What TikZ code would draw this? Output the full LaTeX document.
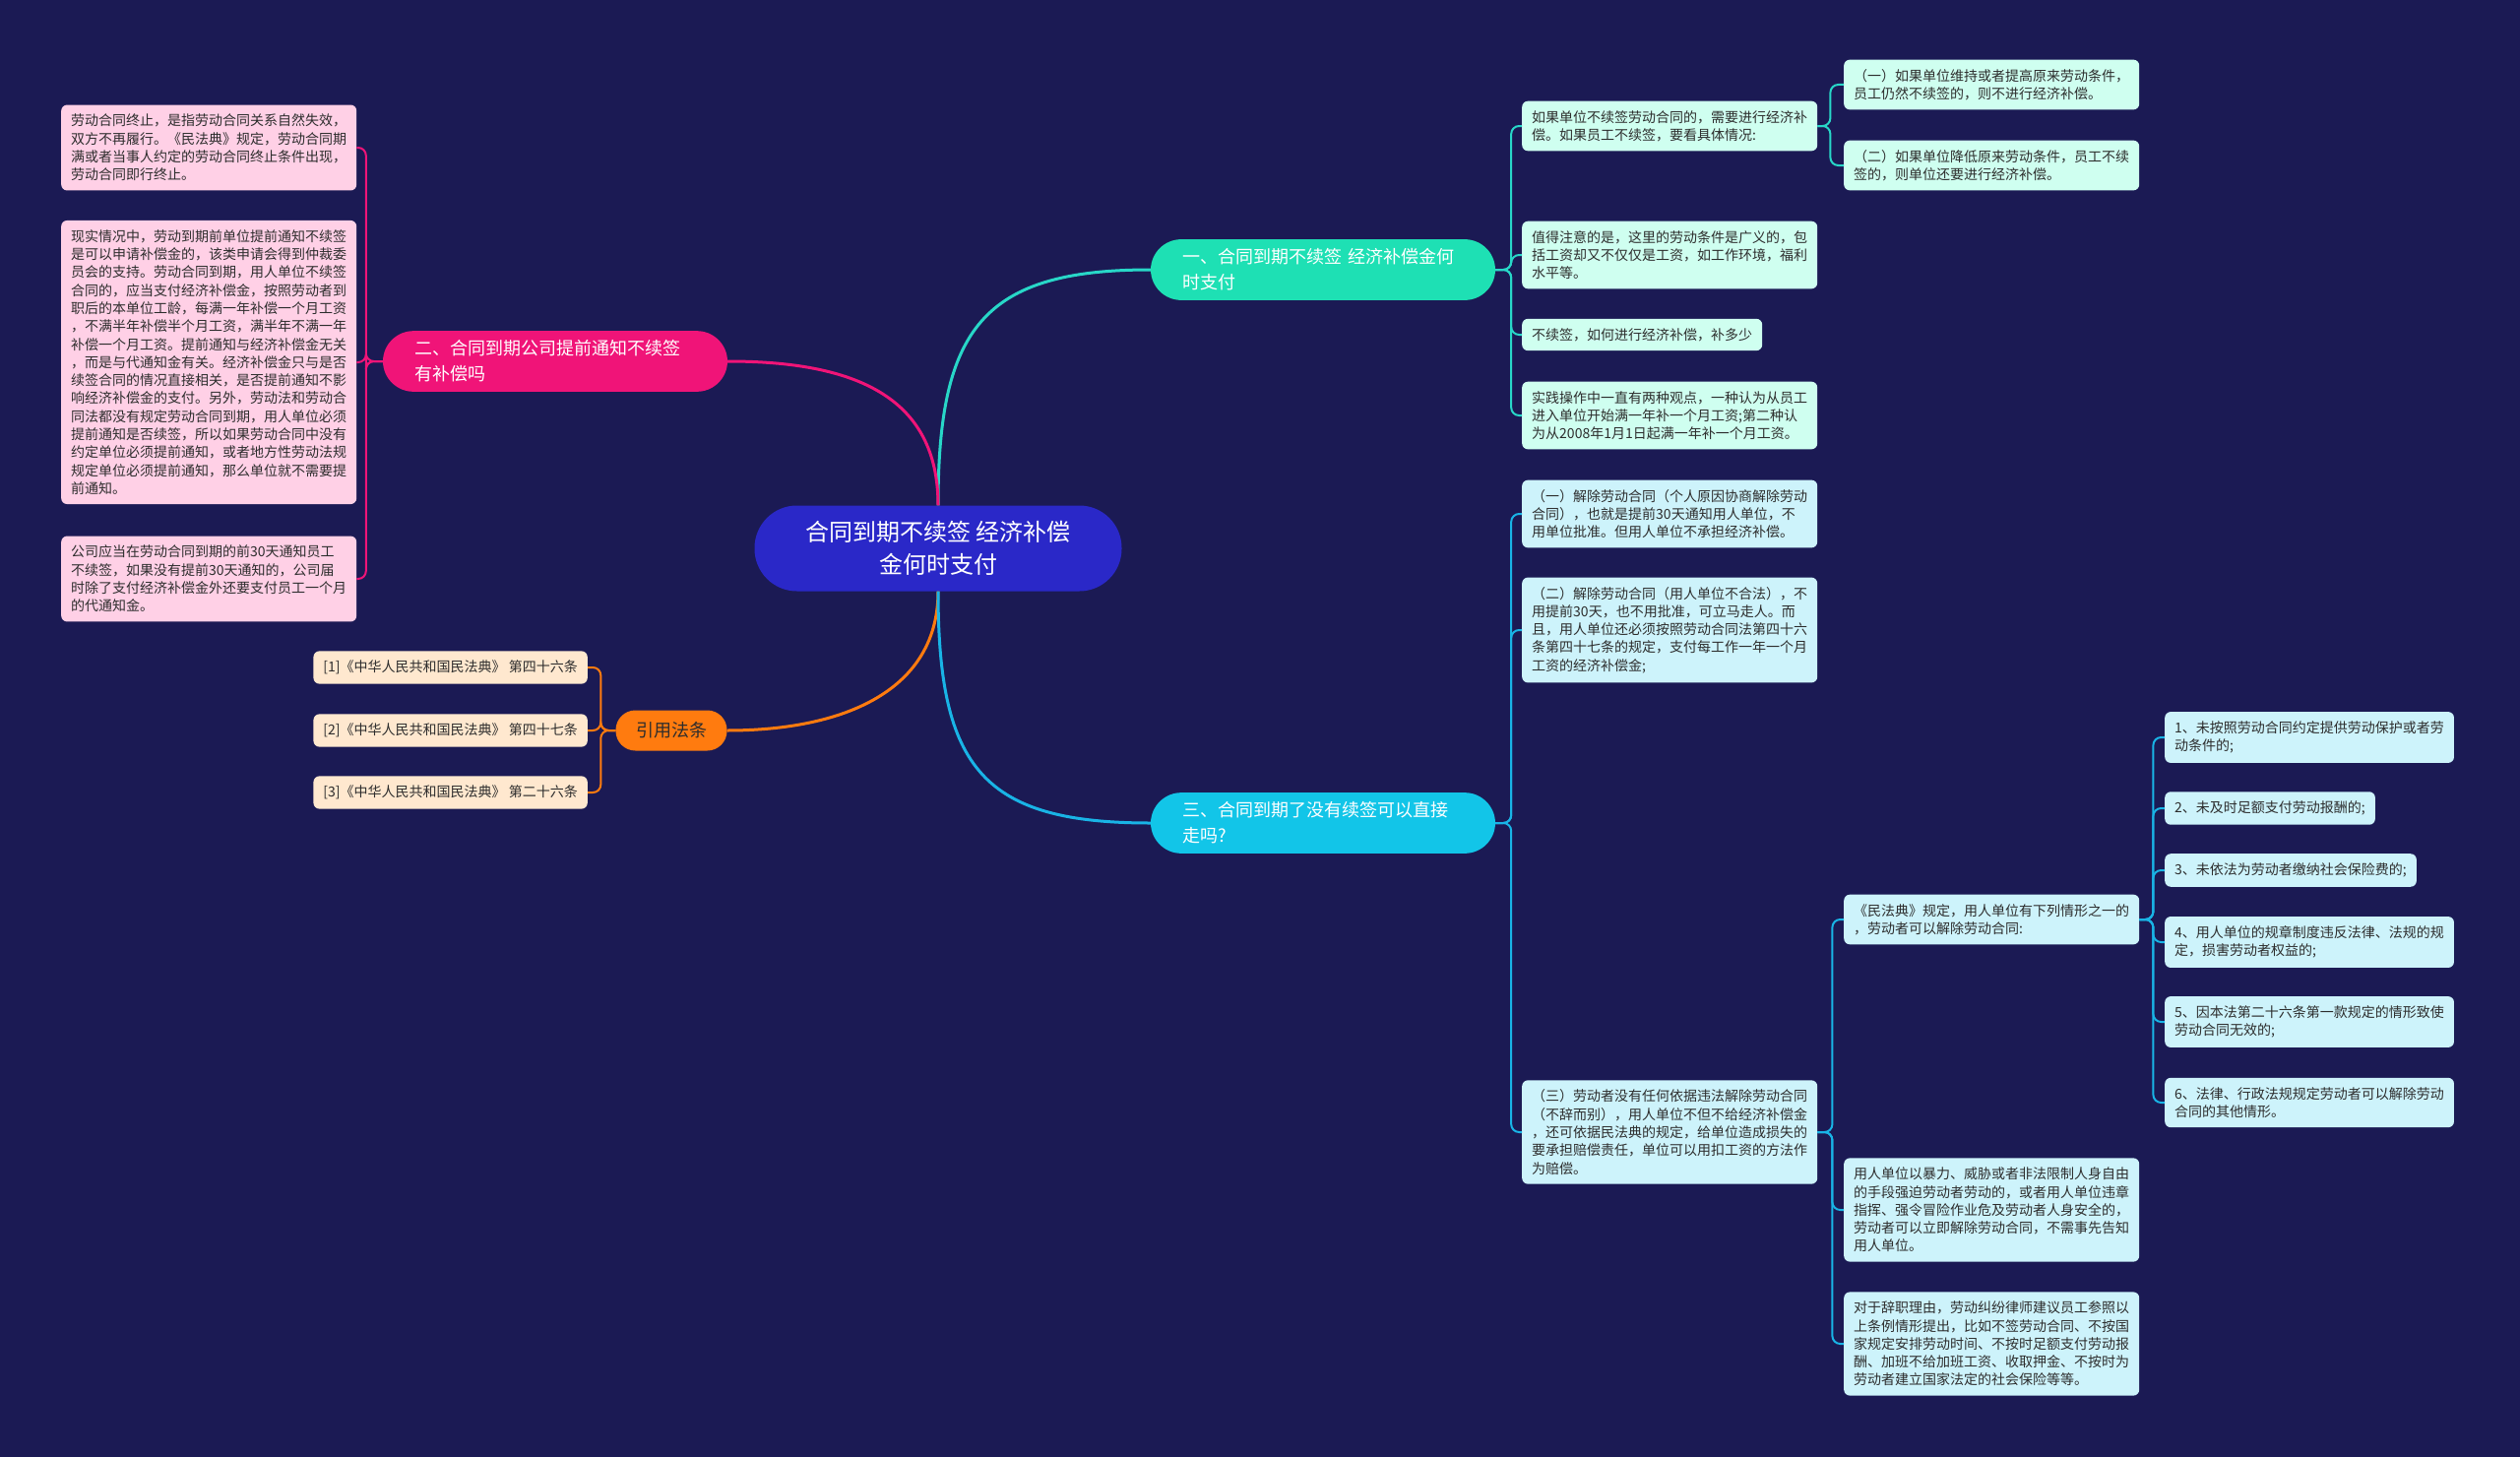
\documentclass[tikz,border=0pt]{standalone}
\usepackage{fontspec}
\setmainfont{Noto Sans CJK SC}
\usetikzlibrary{positioning}

\definecolor{cBack}{RGB}{27,26,84}
\definecolor{cRoot}{RGB}{42,40,200}
\definecolor{cTeal}{RGB}{30,224,180}
\definecolor{cPink}{RGB}{240,20,120}
\definecolor{cOrange}{RGB}{255,123,15}
\definecolor{cCyan}{RGB}{18,197,232}
\definecolor{cTealLine}{RGB}{40,215,200}
\definecolor{cCyanLine}{RGB}{25,180,230}
\definecolor{cPinkLeaf}{RGB}{255,208,230}
\definecolor{cOrangeLeaf}{RGB}{255,232,207}
\definecolor{cTealLeaf}{RGB}{207,255,240}
\definecolor{cCyanLeaf}{RGB}{205,243,251}
\definecolor{cText}{RGB}{45,45,45}

\begin{document}
\begin{tikzpicture}[x=1pt,y=-1pt,
  root/.style={
    rectangle, fill=cRoot, rounded corners=43pt,
    minimum width=373pt, minimum height=87pt,
    align=center, text=white,
    font=\fontsize{24}{33}\selectfont
  },
  branch/.style={
    rectangle, rounded corners=31pt,
    text width=286pt, inner xsep=32pt, inner ysep=9.5pt,
    align=left, text=white,
    font=\fontsize{18}{26}\selectfont
  },
  cite/.style={
    rectangle, fill=cOrange, rounded corners=20pt,
    minimum width=113pt, minimum height=41pt,
    text=cText, font=\fontsize{18}{26}\selectfont
  },
  leaf/.style={
    rectangle, rounded corners=6pt,
    inner xsep=10pt, inner ysep=9.5pt,
    align=left, text=cText, anchor=west,
    font=\fontsize{14}{18.3}\selectfont
  },
  main/.style={line width=3pt},
  twig/.style={line width=2pt, rounded corners=8pt}
]

\useasboundingbox (0,0) rectangle (2560,1480);
\fill[cBack] (0,0) rectangle (2560,1480);

% Centre and main branches
\node[root] (root) at (953,557) {合同到期不续签 经济补偿\\金何时支付};
\node[branch, fill=cTeal] (b1) at (1344,274)
  {一、合同到期不续签 经济补偿金何\\时支付};
\node[branch, fill=cPink] (b2) at (564,367)
  {二、合同到期公司提前通知不续签\\有补偿吗};
\node[cite] (b4) at (682,742) {引用法条};
\node[branch, fill=cCyan] (b3) at (1344,836)
  {三、合同到期了没有续签可以直接\\走吗?};

\draw[main, cTealLine] (root.north) .. controls +(0,-180) and +(-170,0) .. (b1.west);
\draw[main, cPink] (root.north) .. controls +(0,-110) and +(130,0) .. (b2.east);
\draw[main, cOrange] (root.south) .. controls +(0,100) and +(120,0) .. (b4.east);
\draw[main, cCyanLine] (root.south) .. controls +(0,180) and +(-170,0) .. (b3.west);

% Branch 2 leaves
\node[leaf, fill=cPinkLeaf] (l1) at (62,150) {
  劳动合同终止，是指劳动合同关系自然失效，\\
  双方不再履行。《民法典》规定，劳动合同期\\
  满或者当事人约定的劳动合同终止条件出现，\\
  劳动合同即行终止。};
\node[leaf, fill=cPinkLeaf] (l2) at (62,368) {
  现实情况中，劳动到期前单位提前通知不续签\\
  是可以申请补偿金的，该类申请会得到仲裁委\\
  员会的支持。劳动合同到期，用人单位不续签\\
  合同的，应当支付经济补偿金，按照劳动者到\\
  职后的本单位工龄，每满一年补偿一个月工资\\
  ，不满半年补偿半个月工资，满半年不满一年\\
  补偿一个月工资。提前通知与经济补偿金无关\\
  ，而是与代通知金有关。经济补偿金只与是否\\
  续签合同的情况直接相关，是否提前通知不影\\
  响经济补偿金的支付。另外，劳动法和劳动合\\
  同法都没有规定劳动合同到期，用人单位必须\\
  提前通知是否续签，所以如果劳动合同中没有\\
  约定单位必须提前通知，或者地方性劳动法规\\
  规定单位必须提前通知，那么单位就不需要提\\
  前通知。};
\node[leaf, fill=cPinkLeaf] (l3) at (62,588) {
  公司应当在劳动合同到期的前30天通知员工\\
  不续签，如果没有提前30天通知的，公司届\\
  时除了支付经济补偿金外还要支付员工一个月\\
  的代通知金。};

\foreach \n in {l1,l2,l3}
  \draw[twig, cPink] (b2.west) -- ++(-17,0) |- (\n.east);

% Cited articles
\node[leaf, fill=cOrangeLeaf, anchor=east] (a1) at (597,678)
  {[1]《中华人民共和国民法典》 第四十六条};
\node[leaf, fill=cOrangeLeaf, anchor=east] (a2) at (597,742)
  {[2]《中华人民共和国民法典》 第四十七条};
\node[leaf, fill=cOrangeLeaf, anchor=east] (a3) at (597,805)
  {[3]《中华人民共和国民法典》 第二十六条};

\foreach \n in {a1,a2,a3}
  \draw[twig, cOrange] (b4.west) -- ++(-15,0) |- (\n.east);

% Branch 1 leaves
\node[leaf, fill=cTealLeaf] (r1a) at (1546,128)
  {如果单位不续签劳动合同的，需要进行经济补\\偿。如果员工不续签，要看具体情况:};
\node[leaf, fill=cTealLeaf] (r1a1) at (1873,86)
  {（一）如果单位维持或者提高原来劳动条件，\\员工仍然不续签的，则不进行经济补偿。};
\node[leaf, fill=cTealLeaf] (r1a2) at (1873,168)
  {（二）如果单位降低原来劳动条件，员工不续\\签的，则单位还要进行经济补偿。};
\node[leaf, fill=cTealLeaf] (r1b) at (1546,259)
  {值得注意的是，这里的劳动条件是广义的，包\\括工资却又不仅仅是工资，如工作环境，福利\\水平等。};
\node[leaf, fill=cTealLeaf] (r1c) at (1546,340)
  {不续签，如何进行经济补偿，补多少};
\node[leaf, fill=cTealLeaf] (r1d) at (1546,422)
  {实践操作中一直有两种观点，一种认为从员工\\进入单位开始满一年补一个月工资;第二种认\\为从2008年1月1日起满一年补一个月工资。};

\foreach \n in {r1a,r1b,r1c,r1d}
  \draw[twig, cTealLine] (b1.east) -- ++(16,0) |- (\n.west);
\foreach \n in {r1a1,r1a2}
  \draw[twig, cTealLine] (r1a.east) -- ++(13,0) |- (\n.west);

% Branch 3 leaves
\node[leaf, fill=cCyanLeaf] (r3a) at (1546,522)
  {（一）解除劳动合同（个人原因协商解除劳动\\合同），也就是提前30天通知用人单位，不\\用单位批准。但用人单位不承担经济补偿。};
\node[leaf, fill=cCyanLeaf] (r3b) at (1546,640)
  {（二）解除劳动合同（用人单位不合法），不\\用提前30天，也不用批准，可立马走人。而\\且，用人单位还必须按照劳动合同法第四十六\\条第四十七条的规定，支付每工作一年一个月\\工资的经济补偿金;};
\node[leaf, fill=cCyanLeaf] (r3c) at (1546,1150)
  {（三）劳动者没有任何依据违法解除劳动合同\\（不辞而别），用人单位不但不给经济补偿金\\，还可依据民法典的规定，给单位造成损失的\\要承担赔偿责任，单位可以用扣工资的方法作\\为赔偿。};

\node[leaf, fill=cCyanLeaf] (r3c1) at (1873,934)
  {《民法典》规定，用人单位有下列情形之一的\\，劳动者可以解除劳动合同:};
\node[leaf, fill=cCyanLeaf] (r3c2) at (1873,1229)
  {用人单位以暴力、威胁或者非法限制人身自由\\的手段强迫劳动者劳动的，或者用人单位违章\\指挥、强令冒险作业危及劳动者人身安全的，\\劳动者可以立即解除劳动合同，不需事先告知\\用人单位。};
\node[leaf, fill=cCyanLeaf] (r3c3) at (1873,1365)
  {对于辞职理由，劳动纠纷律师建议员工参照以\\上条例情形提出，比如不签劳动合同、不按国\\家规定安排劳动时间、不按时足额支付劳动报\\酬、加班不给加班工资、收取押金、不按时为\\劳动者建立国家法定的社会保险等等。};

\node[leaf, fill=cCyanLeaf] (k1) at (2199,749)
  {1、未按照劳动合同约定提供劳动保护或者劳\\动条件的;};
\node[leaf, fill=cCyanLeaf] (k2) at (2199,821)
  {2、未及时足额支付劳动报酬的;};
\node[leaf, fill=cCyanLeaf] (k3) at (2199,884)
  {3、未依法为劳动者缴纳社会保险费的;};
\node[leaf, fill=cCyanLeaf] (k4) at (2199,957)
  {4、用人单位的规章制度违反法律、法规的规\\定，损害劳动者权益的;};
\node[leaf, fill=cCyanLeaf] (k5) at (2199,1038)
  {5、因本法第二十六条第一款规定的情形致使\\劳动合同无效的;};
\node[leaf, fill=cCyanLeaf] (k6) at (2199,1120)
  {6、法律、行政法规规定劳动者可以解除劳动\\合同的其他情形。};

\foreach \n in {r3a,r3b,r3c}
  \draw[twig, cCyanLine] (b3.east) -- ++(16,0) |- (\n.west);
\foreach \n in {r3c1,r3c2,r3c3}
  \draw[twig, cCyanLine] (r3c.east) -- ++(15,0) |- (\n.west);
\foreach \n in {k1,k2,k3,k4,k5,k6}
  \draw[twig, cCyanLine] (r3c1.east) -- ++(14,0) |- (\n.west);

\end{tikzpicture}
\end{document}
